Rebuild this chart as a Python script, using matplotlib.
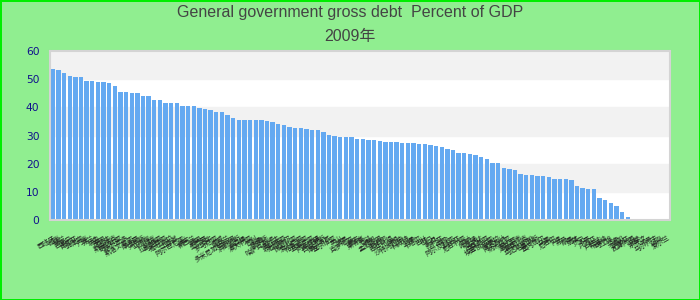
import matplotlib
matplotlib.use("Agg")
import matplotlib.pyplot as plt
import numpy as np

# 2009 general government gross debt, % of GDP (sorted, descending)
countries = [
    "西班牙", "越南", "波兰", "巴拿马", "肯尼亚", "菲律宾", "丹麦", "芬兰", "瑞典", "泰国",
    "乌拉圭", "斯洛伐克", "哥伦比亚", "萨尔瓦多", "斯洛文尼亚", "摩洛哥", "突尼斯", "立陶宛", "捷克", "拉脱维亚",
    "马来西亚", "危地马拉", "土耳其", "阿尔巴尼亚", "瑞士", "新西兰", "韩国", "墨西哥", "南非", "罗马尼亚",
    "挪威", "乌克兰", "多米尼加共和国", "洪都拉斯", "卢森堡", "澳大利亚", "智利", "秘鲁", "俄罗斯", "哈萨克斯坦",
    "巴拉圭", "玻利维亚", "厄瓜多尔", "保加利亚", "爱沙尼亚", "格鲁吉亚", "亚美尼亚", "阿塞拜疆", "白俄罗斯", "摩尔多瓦",
    "塞尔维亚", "黑山", "波黑", "克罗地亚", "蒙古", "柬埔寨", "老挝", "缅甸", "孟加拉国", "尼泊尔",
    "巴基斯坦", "伊朗", "沙特阿拉伯", "科威特", "阿曼", "卡塔尔", "巴林", "也门", "约旦", "叙利亚",
    "埃及", "阿尔及利亚", "利比亚", "尼日利亚", "加纳", "喀麦隆", "乌干达", "坦桑尼亚", "埃塞俄比亚", "安哥拉",
    "博茨瓦纳", "纳米比亚", "赞比亚", "津巴布韦", "莫桑比克", "马达加斯加", "毛里求斯", "塞内加尔", "马里", "尼日尔",
    "乍得", "苏丹", "刚果", "加蓬", "贝宁", "多哥", "几内亚", "卢旺达", "布隆迪", "马拉维",
    "斐济", "汤加", "萨摩亚", "瓦努阿图", "文莱", "东帝汶", "不丹", "马尔代夫", "冰岛", "爱尔兰",
]
debt = [
    53.6, 53.3, 52.2, 51.1, 50.8, 50.8, 49.3, 49.3, 49.0, 49.0,
    48.6, 47.6, 45.4, 45.4, 45.1, 45.1, 44.0, 44.0, 42.6, 42.6,
    41.5, 41.5, 41.5, 40.5, 40.5, 40.5, 39.8, 39.4, 39.1, 38.3,
    38.3, 37.3, 36.2, 35.5, 35.5, 35.5, 35.5, 35.5, 35.1, 34.8,
    34.1, 33.7, 33.0, 32.7, 32.7, 32.3, 32.0, 32.0, 31.2, 30.2,
    29.8, 29.5, 29.5, 29.5, 28.8, 28.8, 28.4, 28.4, 28.0, 27.7,
    27.7, 27.7, 27.3, 27.3, 27.3, 27.0, 27.0, 26.6, 26.3, 25.9,
    25.2, 24.9, 23.8, 23.8, 23.4, 23.1, 22.4, 21.7, 20.2, 20.2,
    18.5, 18.1, 17.8, 16.3, 16.0, 16.0, 15.6, 15.6, 15.3, 14.6,
    14.6, 14.6, 14.2, 12.1, 11.4, 11.0, 11.0, 7.8, 7.1, 6.0,
    5.0, 2.8, 1.1, 0, 0, 0, 0, 0, 0, 0,
]
yticks = [0, 10, 20, 30, 40, 50, 60]

fig = plt.figure(figsize=(7, 3), dpi=100)
fig.patch.set_facecolor("#90ee90")
fig.patch.set_edgecolor("#00ee00")
fig.patch.set_linewidth(2)

ax = fig.add_axes([50 / 700, 80 / 300, 620 / 700, 169 / 300])
ax.set_facecolor("white")

# alternating horizontal bands
for i in range(len(yticks) - 1):
    if i % 2 == 1:
        ax.axhspan(yticks[i], yticks[i + 1], color="#f2f2f2", zorder=0)

x = np.arange(len(countries))
ax.bar(x, debt, width=0.76, color="#64a9f1", zorder=2)

ax.set_xlim(-0.5, len(countries) - 0.5)
ax.set_ylim(0, 60)
ax.set_yticks(yticks)
ax.tick_params(axis="y", length=0, pad=7.5, labelsize=7.7, labelcolor="#10108c")
ax.set_xticks(x)
ax.set_xticklabels(countries, rotation=30, ha="right", rotation_mode="anchor",
                   fontsize=4.8, color="#222222", family=["Noto Sans CJK SC"])
ax.tick_params(axis="x", length=0, pad=10)

for s in ax.spines.values():
    s.set_color("#d4d4d4")
    s.set_linewidth(1.5)

fig.text(0.5, 1 - 13 / 300, "General government gross debt  Percent of GDP",
         ha="center", va="center", fontsize=11.5, color="#444444",
         family=["Liberation Sans", "Noto Sans CJK SC"])
fig.text(0.5, 1 - 37 / 300, "2009年", ha="center", va="center", fontsize=11.5,
         color="#444444", family=["Liberation Sans", "Noto Sans CJK SC"])

fig.savefig("out.png", dpi=100, facecolor=fig.get_facecolor(), edgecolor=fig.get_edgecolor())
